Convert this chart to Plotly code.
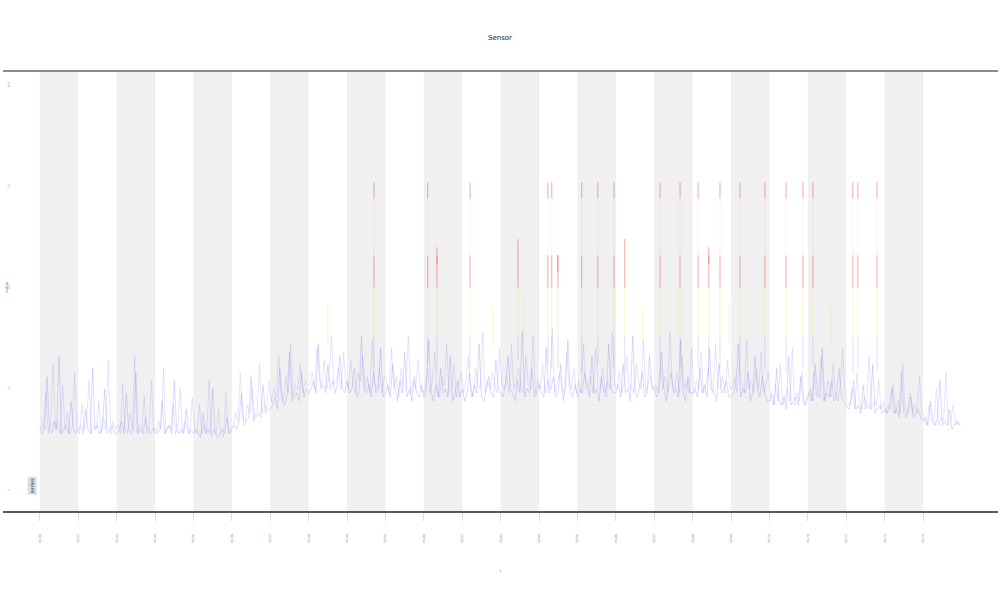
import plotly.graph_objects as go

title_text = "Sensor"
x_title = "t"
y_title = "value"
legend_text = "series"

# daily tick labels (one per shaded / unshaded band edge)
tick_days = list(range(24))
tick_labels = ["03-%02d" % (d + 1) for d in range(24)]

# y axis ticks
y_ticks = [0, 25, 50, 75, 100]

# series A, 16 samples per day, days 0..23
day_values_a = [
    [16, 14, 15, 28, 15, 14, 17, 15, 33, 14, 15, 16, 14, 22, 15, 14],
    [15, 16, 14, 20, 15, 14, 30, 15, 16, 14, 15, 25, 14, 15, 16, 14],
    [14, 15, 17, 14, 24, 15, 14, 15, 29, 14, 15, 14, 18, 15, 14, 15],
    [15, 14, 15, 22, 14, 15, 16, 14, 27, 15, 14, 15, 14, 20, 14, 15],
    [14, 15, 14, 13, 19, 14, 15, 14, 25, 14, 13, 14, 15, 14, 18, 14],
    [15, 16, 15, 17, 24, 16, 17, 18, 28, 17, 18, 19, 18, 26, 19, 20],
    [20, 21, 23, 20, 30, 22, 21, 23, 34, 22, 23, 24, 22, 29, 23, 25],
    [24, 25, 27, 24, 36, 25, 26, 24, 31, 25, 27, 24, 26, 33, 25, 24],
    [27, 24, 25, 30, 23, 24, 38, 25, 24, 26, 23, 29, 24, 25, 35, 23],
    [24, 26, 23, 31, 25, 22, 27, 24, 34, 23, 25, 22, 28, 24, 23, 26],
    [23, 25, 37, 24, 22, 26, 23, 30, 24, 25, 23, 33, 22, 24, 27, 23],
    [25, 22, 24, 29, 23, 26, 24, 36, 23, 22, 25, 28, 24, 23, 32, 25],
    [24, 23, 26, 33, 25, 24, 22, 27, 24, 39, 23, 25, 24, 30, 23, 24],
    [26, 24, 23, 35, 24, 25, 28, 23, 24, 31, 22, 25, 37, 24, 23, 26],
    [23, 25, 24, 29, 26, 23, 33, 24, 25, 22, 28, 24, 23, 36, 25, 24],
    [24, 26, 23, 31, 24, 25, 22, 38, 24, 23, 26, 29, 23, 24, 33, 25],
    [25, 23, 24, 34, 25, 22, 26, 29, 24, 25, 23, 37, 24, 22, 28, 24],
    [24, 25, 23, 30, 24, 26, 23, 35, 25, 24, 22, 31, 24, 25, 27, 23],
    [23, 24, 26, 36, 23, 25, 24, 29, 22, 24, 33, 25, 23, 28, 24, 22],
    [22, 24, 21, 30, 22, 21, 23, 20, 33, 21, 22, 23, 21, 28, 22, 21],
    [23, 25, 22, 31, 24, 23, 35, 22, 24, 23, 27, 22, 24, 30, 23, 22],
    [21, 20, 22, 27, 20, 21, 19, 26, 20, 21, 20, 31, 19, 20, 21, 19],
    [20, 19, 21, 25, 19, 20, 18, 29, 19, 18, 20, 23, 18, 19, 20, 18],
    [17, 18, 16, 22, 17, 16, 18, 27, 16, 17, 16, 20, 15, 16, 17, 16],
]

# series B, 16 samples per day, offset half a sample
day_values_b = [
    [18, 15, 24, 14, 16, 31, 15, 17, 14, 26, 15, 19, 14, 16, 29, 15],
    [14, 21, 15, 17, 27, 14, 16, 15, 22, 14, 18, 15, 32, 14, 17, 15],
    [16, 14, 26, 15, 14, 19, 15, 33, 14, 16, 15, 23, 14, 15, 27, 14],
    [14, 17, 15, 30, 14, 16, 15, 21, 14, 15, 25, 14, 17, 15, 14, 23],
    [15, 14, 21, 14, 16, 14, 27, 13, 15, 14, 20, 14, 13, 24, 14, 15],
    [16, 19, 17, 29, 18, 17, 21, 19, 25, 18, 20, 31, 19, 21, 20, 27],
    [22, 25, 23, 33, 24, 22, 28, 24, 36, 23, 26, 25, 31, 24, 27, 26],
    [26, 29, 25, 35, 27, 26, 32, 25, 28, 38, 26, 27, 30, 25, 34, 27],
    [25, 32, 26, 24, 29, 27, 33, 25, 28, 24, 37, 26, 25, 30, 24, 28],
    [27, 24, 35, 25, 28, 23, 30, 26, 25, 38, 24, 27, 25, 32, 26, 24],
    [25, 30, 24, 27, 34, 25, 23, 28, 26, 36, 24, 25, 31, 23, 26, 29],
    [24, 27, 33, 25, 23, 30, 26, 25, 39, 24, 27, 25, 29, 26, 24, 35],
    [26, 25, 28, 24, 36, 25, 27, 30, 25, 24, 33, 26, 25, 38, 24, 27],
    [25, 31, 24, 27, 25, 40, 24, 26, 29, 25, 24, 34, 26, 25, 30, 24],
    [27, 24, 36, 25, 26, 28, 24, 35, 26, 25, 30, 24, 27, 25, 39, 26],
    [25, 29, 24, 27, 33, 25, 26, 24, 31, 27, 25, 37, 24, 26, 28, 25],
    [26, 24, 31, 25, 28, 24, 39, 26, 25, 29, 24, 33, 25, 27, 24, 35],
    [24, 27, 25, 34, 24, 26, 30, 25, 24, 36, 26, 25, 28, 24, 32, 25],
    [25, 28, 24, 31, 26, 24, 37, 25, 27, 24, 30, 25, 34, 24, 26, 29],
    [23, 21, 26, 22, 31, 21, 23, 25, 22, 35, 21, 24, 22, 29, 21, 23],
    [24, 22, 29, 23, 25, 33, 22, 24, 27, 23, 31, 24, 22, 26, 35, 23],
    [22, 21, 25, 20, 29, 21, 20, 23, 21, 33, 20, 22, 21, 27, 20, 22],
    [19, 21, 20, 26, 19, 22, 19, 31, 20, 19, 24, 19, 21, 19, 28, 19],
    [18, 16, 21, 17, 16, 25, 16, 18, 17, 29, 16, 17, 21, 16, 17, 16],
]

# high-value spikes (day position, base value, peak value)
spike_days = [8.70, 10.10, 10.34, 11.20, 12.45, 13.23, 13.33, 13.49, 14.11, 14.53,
              14.95, 15.23, 16.15, 16.67, 17.14, 17.42, 17.71, 18.23, 18.88, 19.43,
              19.87, 20.13, 21.17, 21.30, 21.80]
spike_peaks = [76, 76, 60, 76, 62, 76, 76, 58, 76, 76,
               76, 62, 76, 76, 76, 60, 76, 76, 76, 76,
               76, 76, 76, 76, 76]
spike_bases = [30, 31, 29, 30, 32, 31, 30, 30, 29, 31,
               30, 29, 31, 30, 30, 29, 30, 31, 30, 29,
               30, 31, 29, 30, 29]
yellow_days = [7.50, 11.80, 12.60, 15.70, 17.95, 20.60]
yellow_peaks = [46, 45, 47, 44, 46, 45]

# ---------------------------------------------------------------
def flatten(day_values, offset):
    xs, ys = [], []
    n = len(day_values[0])
    for d, vals in enumerate(day_values):
        for i, v in enumerate(vals):
            xs.append(d + (i + offset) / n)
            ys.append(v)
    return xs, ys

fig = go.Figure()

# alternating day bands
for d in range(0, 24, 2):
    fig.add_vrect(x0=d, x1=d + 1, fillcolor="#f0f0f0", line_width=0, layer="below")

xa, ya = flatten(day_values_a, 0.0)
xb, yb = flatten(day_values_b, 0.5)
fig.add_trace(go.Scatter(x=xb, y=yb, mode="lines",
                         line=dict(color="rgba(110,110,240,0.32)", width=0.55),
                         showlegend=False, hoverinfo="skip"))
fig.add_trace(go.Scatter(x=xa, y=ya, mode="lines",
                         line=dict(color="rgba(100,100,240,0.42)", width=0.55),
                         showlegend=False, hoverinfo="skip"))

# blue lower part of spikes
bx, by = [], []
for d, b in zip(spike_days, spike_bases):
    bx += [d, d, None]
    by += [b, 38, None]
fig.add_trace(go.Scatter(x=bx, y=by, mode="lines",
                         line=dict(color="rgba(100,100,240,0.35)", width=0.6),
                         showlegend=False, hoverinfo="skip"))

# yellow lower parts of spikes
yx, yy = [], []
for d in spike_days:
    yx += [d, d, None]
    yy += [38, 50, None]
for d, p in zip(yellow_days, yellow_peaks):
    yx += [d, d, None]
    yy += [36, p, None]
fig.add_trace(go.Scatter(x=yx, y=yy, mode="lines",
                         line=dict(color="rgba(240,225,80,0.5)", width=0.7),
                         showlegend=False, hoverinfo="skip"))

# faint connecting part
fx, fy = [], []
for d, p in zip(spike_days, spike_peaks):
    fx += [d, d, None]
    fy += [58, p - 4, None]
fig.add_trace(go.Scatter(x=fx, y=fy, mode="lines",
                         line=dict(color="rgba(230,120,120,0.15)", width=0.6),
                         showlegend=False, hoverinfo="skip"))

# red upper parts of spikes
rx, ry = [], []
for d, p in zip(spike_days, spike_peaks):
    rx += [d, d, None, d, d, None]
    ry += [50, 58, None, p - 4, p, None]
fig.add_trace(go.Scatter(x=rx, y=ry, mode="lines",
                         line=dict(color="rgba(230,60,50,0.55)", width=0.8),
                         showlegend=False, hoverinfo="skip"))

# frame lines
fig.add_shape(type="line", xref="paper", yref="paper", x0=0, x1=1, y0=1, y1=1,
              line=dict(color="#8c8c8c", width=2))
fig.add_shape(type="line", xref="paper", yref="paper", x0=0, x1=1, y0=0, y1=0,
              line=dict(color="#222222", width=1.5))

fig.add_annotation(text=y_title, xref="paper", yref="y", x=-0.0005, y=50,
                   showarrow=False, textangle=-90, font=dict(size=4, color="#777"),
                   xanchor="left")
fig.add_annotation(text=legend_text, xref="x", yref="y", x=-0.2, y=1,
                   showarrow=False, textangle=-90, font=dict(size=5, color="#333"),
                   bgcolor="#dddddd")

fig.update_layout(
    width=1000, height=600,
    paper_bgcolor="white", plot_bgcolor="white",
    margin=dict(l=3, r=2, t=71, b=88),
    title=dict(text=title_text, x=0.5, xanchor="center", y=0.937, yanchor="middle",
               font=dict(size=7, color="#222", family="DejaVu Sans")),
    font=dict(family="DejaVu Sans"),
    xaxis=dict(range=[-0.96, 24.95], tickvals=tick_days, ticktext=tick_labels,
               tickangle=-90, tickfont=dict(size=3, color="#777"),
               ticks="outside", ticklen=8, tickcolor="#dddddd",
               ticklabelstandoff=12,
               showgrid=False, zeroline=False,
               title=dict(text=x_title, font=dict(size=4, color="#777"), standoff=28)),
    yaxis=dict(range=[-5.4, 103.5], tickvals=y_ticks,
               ticktext=[str(v) for v in y_ticks],
               ticklabelposition="inside", tickangle=-90,
               tickfont=dict(size=3, color="#aaa"),
               showgrid=False, zeroline=False, ticks=""),
)

fig.write_html("out.html", config={"displayModeBar": False},
               post_script="document.body.style.margin='0';")
